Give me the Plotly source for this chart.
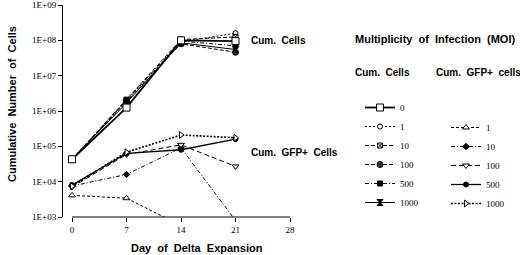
import plotly.graph_objects as go

days = [0, 7, 14, 21]

# Cumulative cells per MOI
cells_moi0 = [4.3e4, 1.25e6, 1.0e8, 9.5e7]
cells_moi1 = [4.3e4, 1.9e6, 9.0e7, 1.6e8]
cells_moi10 = [4.3e4, 2.1e6, 1.05e8, 1.25e8]
cells_moi100 = [4.3e4, 1.8e6, 8.0e7, 4.6e7]
cells_moi500 = [4.3e4, 2.0e6, 9.5e7, 7.0e7]
cells_moi1000 = [4.3e4, 1.7e6, 8.5e7, 5.5e7]

# Cumulative GFP+ cells per MOI
gfp_moi1 = [4.1e3, 3.4e3, 5.7e2, None]
gfp_moi10 = [7.5e3, 1.6e4, 9.0e4, 8.0e2]
gfp_moi100 = [7.0e3, 5.9e4, 1.1e5, 2.7e4]
gfp_moi500 = [8.0e3, 6.3e4, 8.0e4, 1.6e5]
gfp_moi1000 = [7.5e3, 6.8e4, 2.1e5, 1.75e5]

x_ticks = [0, 7, 14, 21, 28]
y_ticks = [1e3, 1e4, 1e5, 1e6, 1e7, 1e8, 1e9]
y_tick_labels = ["1E+03", "1E+04", "1E+05", "1E+06", "1E+07", "1E+08", "1E+09"]

W, H = 520, 255
L, R, T, B = 63, 292, 5, 217


def px(x):
    return (x - L) / (R - L)


def py(y):
    return (B - y) / (B - T)


fig = go.Figure()

serif = "Liberation Serif"
sans = "Liberation Sans"


def add(name, ys, dash, symbol, legend, rank, fill="black", width=1.0, size=5):
    fig.add_trace(go.Scatter(
        x=days, y=ys, name=name, mode="lines+markers",
        line=dict(color="black", width=width, dash=dash),
        marker=dict(symbol=symbol, size=size, color=fill,
                    line=dict(color="black", width=1)),
        legend=legend, legendrank=rank, connectgaps=False,
    ))


# GFP+ series (legend2)
add("1", gfp_moi1, "3px,2px", "triangle-up", "legend2", 1, fill="white", size=6)
add("10", gfp_moi10, "4px,2px,1px,2px", "diamond", "legend2", 2, size=5)
add("100", gfp_moi100, "5px,3px", "triangle-down", "legend2", 3, fill="white", size=6)
add("500", gfp_moi500, "solid", "circle", "legend2", 4, width=1.3, size=5)
add("1000", gfp_moi1000, "2px,1.5px", "triangle-right", "legend2", 5, fill="white", width=1.6, size=6)

# Cum cells series (legend)
add("1", cells_moi1, "2px,2px", "circle", "legend", 2, fill="white")
add("10", cells_moi10, "4px,2px", "square-x", "legend", 3, fill="white")
add("100", cells_moi100, "4px,2px", "circle", "legend", 4, fill="#333333", size=6)
add("500", cells_moi500, "4px,2px,1px,2px", "square", "legend", 5, size=5)
add("1000", cells_moi1000, "solid", "hourglass", "legend", 6, size=6)
add("0", cells_moi0, "solid", "square", "legend", 1, fill="white", width=1.8, size=7)

# detached x axis line
fig.add_shape(type="line", xref="x", yref="paper", x0=0, x1=28, y0=0, y1=0,
              line=dict(color="black", width=1))

bold = lambda s: dict(family=sans, size=s, color="black", weight="bold")
annos = [
    dict(text="Cumulative  Number  of  Cells", x=px(12), y=py(104), textangle=-90,
         xanchor="center", font=bold(11)),
    dict(text="Day  of  Delta  Expansion", x=px(197), y=py(248), xanchor="center",
         font=bold(11)),
    dict(text="Cum.  Cells", x=px(250), y=py(41), xanchor="left", font=bold(10)),
    dict(text="Cum.  GFP+  Cells", x=px(250), y=py(152), xanchor="left", font=bold(10)),
    dict(text="Multiplicity  of  Infection  (MOI)", x=px(354), y=py(39), xanchor="left",
         font=bold(11)),
    dict(text="Cum.  Cells", x=px(354), y=py(72), xanchor="left", font=bold(10)),
    dict(text="Cum.  GFP+  cells", x=px(435), y=py(72), xanchor="left", font=bold(10)),
]
for a in annos:
    fig.add_annotation(xref="paper", yref="paper", showarrow=False, yanchor="middle",
                       borderpad=0, **a)

legend_common = dict(xref="container", yref="container", xanchor="left", yanchor="top",
                     bgcolor="rgba(0,0,0,0)", borderwidth=0,
                     font=dict(family=serif, size=9, color="black"),
                     traceorder="normal", itemwidth=30)

fig.update_layout(
    width=W, height=H,
    margin=dict(l=L, r=W - R, t=T, b=H - B),
    paper_bgcolor="white", plot_bgcolor="white",
    showlegend=True,
    legend=dict(x=360 / W, y=1 - 93 / H, **legend_common),
    legend2=dict(x=446 / W, y=1 - 113 / H, **legend_common),
    xaxis=dict(range=[-9 / 7.786, 28 + 2 / 7.786], tickvals=x_ticks,
               ticktext=[str(t) for t in x_ticks], showline=False, showgrid=False,
               zeroline=False, ticks="outside", ticklen=4, tickcolor="black",
               automargin=False,
               tickfont=dict(family=serif, size=9, color="black")),
    yaxis=dict(type="log", range=[3, 9], tickvals=y_ticks, ticktext=y_tick_labels,
               showline=True, linecolor="black", linewidth=1, showgrid=False,
               zeroline=False, ticks="outside", ticklen=4, tickcolor="black",
               automargin=False,
               tickfont=dict(family=serif, size=9, color="black")),
)

fig.write_html("out.html", config={"displayModeBar": False},
               post_script="document.body.style.margin='0';")
